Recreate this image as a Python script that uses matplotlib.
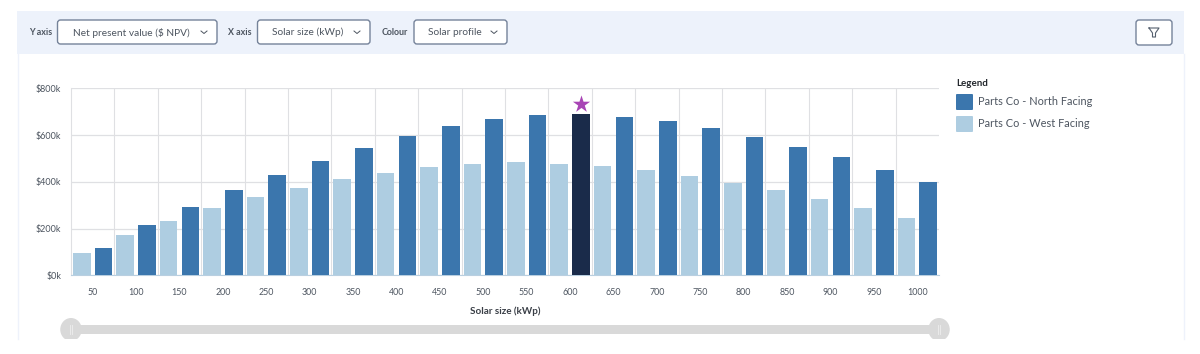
import numpy as np
import matplotlib
matplotlib.use("Agg")
import matplotlib.pyplot as plt
from matplotlib.patches import FancyBboxPatch, Rectangle, Ellipse

plt.rcParams['font.family'] = ['Lato', 'DejaVu Sans']

# Data ($k)
sizes = [50, 100, 150, 200, 250, 300, 350, 400, 450, 500,
         550, 600, 650, 700, 750, 800, 850, 900, 950, 1000]
north_facing = [118, 217, 294, 365, 429, 490, 546, 596, 638, 668,
                685, 688, 678, 658, 629, 593, 549, 504, 452, 400]
west_facing = [96, 173, 232, 286, 334, 373, 410, 439, 462, 477,
               483, 478, 467, 449, 425, 397, 363, 327, 287, 244]
y_ticks = [0, 200, 400, 600, 800]
best_size = 600
star_value = 732

NORTH = '#3b76ad'
WEST = '#aecde1'
BEST = '#1a2b4a'
GRID = '#dfe0e3'
TEXT = '#4d5560'
BORDER = '#75839a'

W, H = 1200, 354
fig = plt.figure(figsize=(W / 100, H / 100), dpi=100, facecolor='white')

# page furniture, drawn in pixel coordinates
ui = fig.add_axes([0, 0, 1, 1])
ui.set_xlim(0, W)
ui.set_ylim(H, 0)
ui.axis('off')

ui.plot([17.5, 17.5], [54, 339], color='#eef2fb', lw=1)
ui.plot([1184, 1184], [54, 339], color='#eef2fb', lw=1)
ui.add_patch(Rectangle((17, 11), 1167, 43, facecolor='#edf2fb', edgecolor='none'))


def select_box(x0, x1, label, caption, caption_x):
    ui.add_patch(FancyBboxPatch((x0 + 3, 23), x1 - x0 - 6, 18, boxstyle='round,pad=3',
                                facecolor='white', edgecolor=BORDER, lw=1))
    ui.text(x1 - 18 - (x1 - x0 - 18) / 2 + 3, 32.5, label, fontsize=7.3, color=TEXT,
            ha='center', va='center')
    ui.plot([x1 - 16, x1 - 13, x1 - 10], [31, 33.5, 31], color=TEXT, lw=0.7)
    ui.text(caption_x, 32.5, caption, fontsize=6.4, color=TEXT, fontweight='bold',
            ha='left', va='center')


select_box(57.5, 217, 'Net present value ($ NPV)', 'Y axis', 29)
select_box(257.5, 370, 'Solar size (kWp)', 'X axis', 228)
select_box(414, 507, 'Solar profile', 'Colour', 381.5)

# filter button
ui.add_patch(FancyBboxPatch((1139, 23), 30, 19, boxstyle='round,pad=3',
                            facecolor='white', edgecolor=BORDER, lw=1))
ui.plot([1149, 1159, 1155.5, 1155.5, 1152.5, 1152.5, 1149],
        [28, 28, 33, 37, 37, 33, 28], color='#55606e', lw=0.8)

# chart
ax = fig.add_axes([71 / W, 1 - 275.3 / H, 868 / W, 187 / H])
pos = np.arange(len(sizes))
bar_w = 0.405
north_colors = [BEST if s == best_size else NORTH for s in sizes]
ax.bar(pos - 0.25, west_facing, bar_w, color=WEST, zorder=3)
ax.bar(pos + 0.25, north_facing, bar_w, color=north_colors, zorder=3)
ax.scatter([sizes.index(best_size) + 0.25], [star_value], marker='*', s=170,
           color='#a845b5', linewidths=0, zorder=4)

ax.set_xlim(-0.5, len(sizes) - 0.5)
ax.set_ylim(0, 800)
ax.set_yticks(y_ticks)
ax.set_yticklabels([f'${v}k' for v in y_ticks])
ax.set_xticks(pos)
ax.set_xticklabels(sizes)
ax.set_xticks(pos[:-1] + 0.5, minor=True)
ax.grid(True, axis='y', color=GRID, lw=0.9, zorder=0)
ax.grid(True, axis='x', which='minor', color=GRID, lw=0.8, zorder=0)
ax.grid(False, axis='x', which='major')
ax.tick_params(which='both', length=0)
ax.tick_params(axis='x', which='major', pad=9, labelsize=6.4, labelcolor=TEXT)
ax.tick_params(axis='y', pad=7, labelsize=6.5, labelcolor=TEXT)
for side in ['top', 'right']:
    ax.spines[side].set_visible(False)
ax.spines['left'].set_color(GRID)
ax.spines['bottom'].set_color('#b9cfe0')
ax.set_xlabel('Solar size (kWp)', fontsize=7.1, fontweight='bold', color='#3a3f47', labelpad=7)

# legend
ui.text(956, 83, 'Legend', fontsize=7, fontweight='bold', color='#22262c', ha='left', va='center')
for y, color, label in [(94, NORTH, 'Parts Co - North Facing'), (116, WEST, 'Parts Co - West Facing')]:
    ui.add_patch(FancyBboxPatch((957, y + 1), 15, 14, boxstyle='round,pad=1',
                                facecolor=color, edgecolor='none'))
    ui.text(978.5, y + 7.5, label, fontsize=7.9, color=TEXT, ha='left', va='center')

# range slider under the chart
ui.add_patch(Rectangle((71, 325), 868, 9, facecolor='#d9d9d9', edgecolor='none'))
clip = Rectangle((0, 0), W, 339, transform=ui.transData)
for cx in [71, 939]:
    handle = Ellipse((cx, 329.5), 21.5, 23, facecolor='#d9d9d9', edgecolor='none')
    ui.add_patch(handle)
    handle.set_clip_path(clip)
    ui.plot([cx - 1.2, cx - 1.2], [325, 334], color='#eeeeee', lw=0.6)
    ui.plot([cx + 1.2, cx + 1.2], [325, 334], color='#eeeeee', lw=0.6)

fig.savefig('out.png', dpi=100)
plt.close(fig)
